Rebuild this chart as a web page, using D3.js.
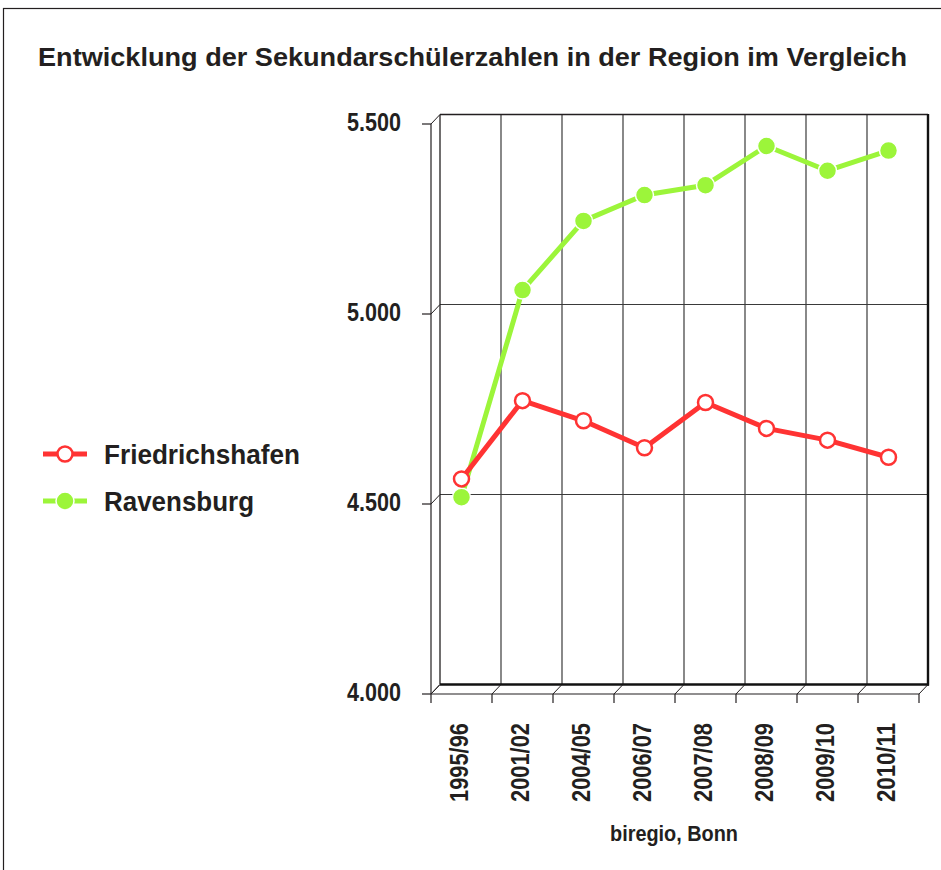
<!DOCTYPE html>
<html><head><meta charset="utf-8">
<script src="https://cdn.jsdelivr.net/npm/d3@7"></script>
<style>
html,body{margin:0;padding:0;background:#fff;}
svg{display:block;font-family:"Liberation Sans",Arial,sans-serif;}
</style></head>
<body>
<svg id="c" width="941" height="870"></svg>
<script>
const categories = ["1995/96","2001/02","2004/05","2006/07","2007/08","2008/09","2009/10","2010/11"];
const friedrichshafen = [4566,4772,4719,4648,4767,4699,4668,4623];
const ravensburg = [4518,5063,5245,5313,5339,5442,5377,5430];
const yTicks = [4000,4500,5000,5500];
const yTickLabels = ["4.000","4.500","5.000","5.500"];
const seriesNames = ["Friedrichshafen","Ravensburg"];
const title = "Entwicklung der Sekundarschülerzahlen in der Region im Vergleich";
const source = "biregio, Bonn";

const svg = d3.select("#c");
const RED = "#ff3333", GREEN = "#9cf53a";
const INK = "#231f20";
const dx = 9, dy = -9.5;

// outer frame
svg.append("rect").attr("x",3.5).attr("y",8.5).attr("width",945).attr("height",880)
  .attr("fill","none").attr("stroke",INK).attr("stroke-width",1.2);

svg.append("text").attr("x",38).attr("y",66)
  .attr("font-size",25).attr("font-weight","bold").attr("fill",INK)
  .attr("textLength",869).attr("lengthAdjust","spacingAndGlyphs").text(title);

const x = d3.scaleBand().domain(categories).range([431,919]);
const y = d3.scaleLinear().domain([4000,5500]).range([694,124]);
const x0 = x.range()[0], x1 = x.range()[1];
const yb = y(4000), yt = y(5500);

const g = svg.append("g");
const bounds = categories.map(c => x(c)).concat([x1]);
// back wall vertical gridlines
bounds.slice(1,-1).forEach(b => {
  g.append("line").attr("x1",b+dx).attr("x2",b+dx).attr("y1",yt+dy).attr("y2",yb+dy)
   .attr("stroke","#3a3a3a").attr("stroke-width",1.2);
});
// back wall horizontal gridlines
yTicks.slice(1,-1).forEach(t => {
  g.append("line").attr("x1",x0+dx).attr("x2",x1+dx).attr("y1",y(t)+dy).attr("y2",y(t)+dy)
   .attr("stroke","#3a3a3a").attr("stroke-width",1.2);
});
// back wall outline
g.append("line").attr("x1",x0+dx).attr("x2",x1+dx).attr("y1",yt+dy).attr("y2",yt+dy).attr("stroke",INK).attr("stroke-width",1.3);
g.append("line").attr("x1",x0+dx).attr("x2",x0+dx).attr("y1",yt+dy).attr("y2",yb+dy).attr("stroke",INK).attr("stroke-width",1.3);
g.append("line").attr("x1",x1+dx).attr("x2",x1+dx).attr("y1",yt+dy-0.6).attr("y2",yb+dy+1).attr("stroke","#111").attr("stroke-width",2.4);
g.append("line").attr("x1",x0+dx).attr("x2",x1+dx+1).attr("y1",yb+dy).attr("y2",yb+dy).attr("stroke","#111").attr("stroke-width",2.4);

// front y axis
g.append("line").attr("x1",x0).attr("x2",x0).attr("y1",yt).attr("y2",yb).attr("stroke",INK).attr("stroke-width",1.2);
yTicks.forEach((t,i) => {
  g.append("line").attr("x1",x0-9).attr("x2",x0).attr("y1",y(t)).attr("y2",y(t)).attr("stroke",INK).attr("stroke-width",1.2);
  g.append("line").attr("x1",x0).attr("x2",x0+dx).attr("y1",y(t)).attr("y2",y(t)+dy).attr("stroke",INK).attr("stroke-width",1);
  g.append("text").attr("x",347).attr("y",y(t)+7)
   .attr("font-size",26).attr("font-weight","bold").attr("fill",INK)
   .attr("textLength",54).attr("lengthAdjust","spacingAndGlyphs")
   .text(yTickLabels[i]);
});
// front x axis (floor edge)
g.append("line").attr("x1",x0).attr("x2",x1).attr("y1",yb).attr("y2",yb).attr("stroke",INK).attr("stroke-width",1.2);
bounds.forEach(b => {
  g.append("line").attr("x1",b).attr("x2",b+dx).attr("y1",yb).attr("y2",yb+dy).attr("stroke",INK).attr("stroke-width",1);
  g.append("line").attr("x1",b).attr("x2",b).attr("y1",yb).attr("y2",yb+9).attr("stroke",INK).attr("stroke-width",1.2);
});
// x labels (rotated)
categories.forEach(c => {
  const bx = x(c) + x.bandwidth()/2 + 6.5;
  g.append("text").attr("transform",`translate(${bx},802) rotate(-90)`)
   .attr("x",0).attr("y",0)
   .attr("font-size",26).attr("font-weight","bold").attr("fill",INK)
   .attr("textLength",79).attr("lengthAdjust","spacingAndGlyphs")
   .text(c);
});

// series
const line = d3.line().x((d,i) => x(categories[i]) + x.bandwidth()/2).y(d => y(d));
function drawSeries(vals, color, hollow) {
  g.append("path").datum(vals).attr("d",line).attr("fill","none").attr("stroke",color)
   .attr("stroke-width",5).attr("stroke-linejoin","round");
  g.selectAll(null).data(vals).enter().append("circle")
   .attr("cx",(d,i) => x(categories[i]) + x.bandwidth()/2).attr("cy",d => y(d))
   .attr("r", hollow ? 7.5 : 9)
   .attr("fill", hollow ? "#fff" : color)
   .attr("stroke", hollow ? color : "#fff")
   .attr("stroke-width", hollow ? 2.5 : 1.5);
}
drawSeries(ravensburg, GREEN, false);
drawSeries(friedrichshafen, RED, true);

// legend
const legend = [{name:seriesNames[0], color:RED, hollow:true, y:454, w:196},
                {name:seriesNames[1], color:GREEN, hollow:false, y:501, w:150}];
legend.forEach(l => {
  svg.append("line").attr("x1",43).attr("x2",87).attr("y1",l.y).attr("y2",l.y).attr("stroke",l.color).attr("stroke-width",5);
  svg.append("circle").attr("cx",65).attr("cy",l.y).attr("r",l.hollow?7.5:9)
    .attr("fill",l.hollow?"#fff":l.color).attr("stroke",l.hollow?l.color:"#fff").attr("stroke-width",l.hollow?2.5:1.5);
  svg.append("text").attr("x",104).attr("y",l.y+10).attr("font-size",27).attr("font-weight","bold").attr("fill",INK)
    .attr("textLength",l.w).attr("lengthAdjust","spacingAndGlyphs")
    .text(l.name);
});

svg.append("text").attr("x",610).attr("y",841).attr("font-size",22)
  .attr("font-weight","bold").attr("fill",INK)
  .attr("textLength",128).attr("lengthAdjust","spacingAndGlyphs").text(source);
</script>
</body></html>
